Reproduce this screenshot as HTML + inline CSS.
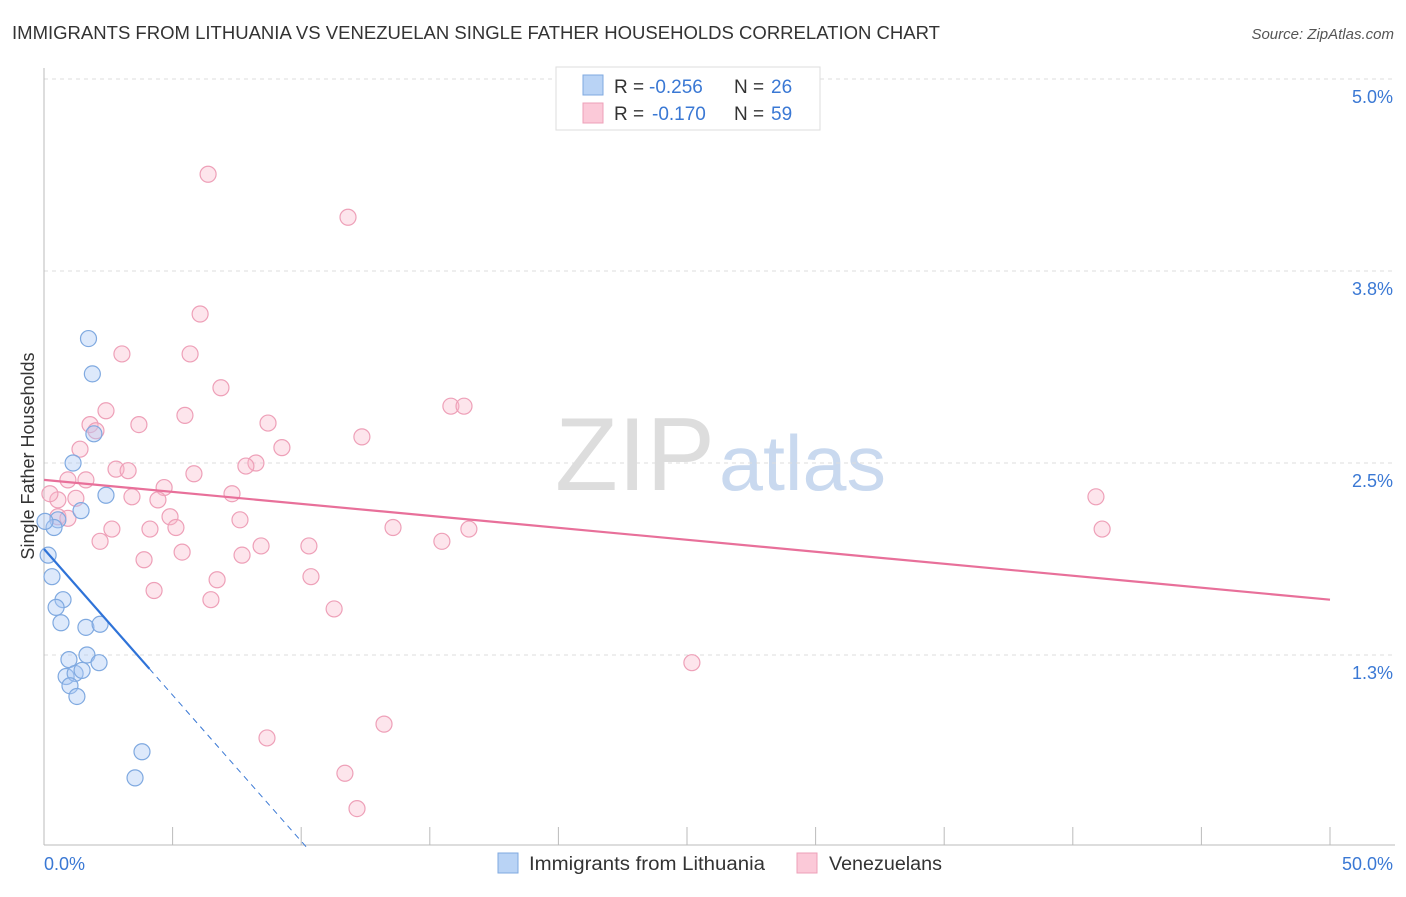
<!DOCTYPE html>
<html><head><meta charset="utf-8">
<style>
body{margin:0;background:#fff;font-family:"Liberation Sans",sans-serif;}
svg text{font-family:"Liberation Sans",sans-serif;}
</style></head>
<body>
<svg id="chart" width="1406" height="892" xmlns="http://www.w3.org/2000/svg">
<text x="12" y="39" font-size="18" fill="#333" textLength="928" lengthAdjust="spacingAndGlyphs">IMMIGRANTS FROM LITHUANIA VS VENEZUELAN SINGLE FATHER HOUSEHOLDS CORRELATION CHART</text>
<text x="1394" y="39" font-size="15" fill="#555" text-anchor="end" font-style="italic">Source: ZipAtlas.com</text>
<text x="555" y="490" font-size="104" fill="#ddd" textLength="160" lengthAdjust="spacingAndGlyphs" font-family="Liberation Serif">ZIP</text>
<text x="719" y="490" font-size="78" fill="#c9d9ef" textLength="167" lengthAdjust="spacingAndGlyphs">atlas</text>
<g id="grid"></g>
<g id="axes"></g>
<g id="marks"></g>
<text transform="translate(34,456) rotate(-90)" font-size="18" fill="#333" text-anchor="middle">Single Father Households</text>
<g>
<rect x="556" y="67" width="264" height="63" fill="#fff" stroke="#ddd"/>
<rect x="583" y="75" width="20" height="20" fill="#b9d3f5" stroke="#7fa9e0"/>
<rect x="583" y="103" width="20" height="20" fill="#fbc9d8" stroke="#eea0b8"/>
<text x="614" y="93" font-size="19" fill="#333">R =</text>
<text x="649" y="93" font-size="19" fill="#3a78d4">-0.256</text>
<text x="734" y="93" font-size="19" fill="#333">N =</text>
<text x="771" y="93" font-size="19" fill="#3a78d4">26</text>
<text x="614" y="120" font-size="19" fill="#333">R =</text>
<text x="652" y="120" font-size="19" fill="#3a78d4">-0.170</text>
<text x="734" y="120" font-size="19" fill="#333">N =</text>
<text x="771" y="120" font-size="19" fill="#3a78d4">59</text>
</g>
<g>
<rect x="498" y="853" width="20" height="20" fill="#b9d3f5" stroke="#7fa9e0"/>
<text x="529" y="870" font-size="19" fill="#333" textLength="236" lengthAdjust="spacingAndGlyphs">Immigrants from Lithuania</text>
<rect x="797" y="853" width="20" height="20" fill="#fbc9d8" stroke="#eea0b8"/>
<text x="829" y="870" font-size="19" fill="#333" textLength="113" lengthAdjust="spacingAndGlyphs">Venezuelans</text>
</g>
</svg>
<script>
const yTicks=[5.0,3.75,2.5,1.25];
const yTickLabels=["5.0%","3.8%","2.5%","1.3%"];
const blueX=[1.73,1.88,1.94,1.13,2.41,1.44,0.54,0.39,0.16,0.31,0.74,0.47,0.66,1.63,2.18,1.67,0.97,2.14,0.86,1.21,1.48,1.01,1.28,3.81,3.54,0.04];
const blueY=[3.31,3.08,2.69,2.50,2.29,2.19,2.13,2.08,1.90,1.76,1.61,1.56,1.46,1.43,1.45,1.25,1.22,1.20,1.11,1.13,1.15,1.05,0.98,0.62,0.45,2.12];
const pinkX=[6.38,11.82,6.07,3.03,5.68,6.88,2.41,5.48,1.79,3.69,8.71,2.02,12.36,9.25,1.40,8.24,7.85,2.80,3.27,5.83,0.93,1.63,4.67,0.54,1.24,7.31,3.42,4.43,4.90,0.54,0.93,7.62,5.13,4.12,2.64,2.18,13.57,15.47,16.52,10.30,8.44,5.37,3.89,7.70,10.38,6.73,4.28,6.49,11.28,25.19,13.22,8.67,11.70,12.17,15.82,16.33,40.90,41.14,0.23];
const pinkY=[4.38,4.10,3.47,3.21,3.21,2.99,2.84,2.81,2.75,2.75,2.76,2.71,2.67,2.60,2.59,2.50,2.48,2.46,2.45,2.43,2.39,2.39,2.34,2.26,2.27,2.30,2.28,2.26,2.15,2.15,2.14,2.13,2.08,2.07,2.07,1.99,2.08,1.99,2.07,1.96,1.96,1.92,1.87,1.90,1.76,1.74,1.67,1.61,1.55,1.20,0.80,0.71,0.48,0.25,2.87,2.87,2.28,2.07,2.30];
const blueTrend=[0,1.94,4.1,1.16];
const pinkTrend=[0,2.39,50,1.61];
const X=v=>44+v*25.72, Y=v=>847-v*153.6;
const NS="http://www.w3.org/2000/svg";
function mk(tag,attrs,parent){const e=document.createElementNS(NS,tag);for(const k in attrs)e.setAttribute(k,attrs[k]);document.getElementById(parent).appendChild(e);return e;}
yTicks.forEach((t,i)=>{
 const g=mk('line',{x1:44,x2:1395,y1:Y(t),y2:Y(t),stroke:'#ddd','stroke-dasharray':'4,4'},'grid');
 
 
 const l=mk('text',{x:1393,y:Y(t)+24,'font-size':18,fill:'#3a78d4','text-anchor':'end'},'axes');
 l.textContent=yTickLabels[i];
 
 
});
const ax=mk('line',{x1:44,x2:1395,y1:845,y2:845,stroke:'#bbb'},'axes');


const ay=mk('line',{x1:44,x2:44,y1:68,y2:845,stroke:'#bbb'},'axes');


for(let i=0;i<=10;i++){const t=mk('line',{x1:X(i*5),x2:X(i*5),y1:827,y2:845,stroke:'#bbb'},'axes');
 
 }
[["0.0%",44,"start"],["50.0%",1393,"end"]].forEach(a=>{const t=mk('text',{x:a[1],y:870,'font-size':18,fill:'#3a78d4','text-anchor':a[2]},'axes');t.textContent=a[0];
 
 });
pinkX.forEach((v,i)=>{const c=mk('circle',{cx:X(v),cy:Y(pinkY[i]),r:8,fill:'rgba(248,180,200,0.35)',stroke:'#eea0b8','stroke-width':1.2},'marks');
 
 });
blueX.forEach((v,i)=>{const c=mk('circle',{cx:X(v),cy:Y(blueY[i]),r:8,fill:'rgba(170,200,245,0.4)',stroke:'#7fa9e0','stroke-width':1.2},'marks');
 
 });
const slope=(blueTrend[3]-blueTrend[1])/(blueTrend[2]-blueTrend[0]);
const xEnd=blueTrend[0]+(0-blueTrend[1])/slope;
const bd=mk('line',{x1:X(blueTrend[2]),y1:Y(blueTrend[3]),x2:X(xEnd),y2:Y(0),stroke:'#3a78d4','stroke-width':1,'stroke-dasharray':'6,5'},'marks');


const bl=mk('line',{x1:X(blueTrend[0]),y1:Y(blueTrend[1]),x2:X(blueTrend[2]),y2:Y(blueTrend[3]),stroke:'#2f73d8','stroke-width':2.2},'marks');


const pl=mk('line',{x1:X(pinkTrend[0]),y1:Y(pinkTrend[1]),x2:X(pinkTrend[2]),y2:Y(pinkTrend[3]),stroke:'#e8709a','stroke-width':2.2},'marks');


</script>
</body></html>
